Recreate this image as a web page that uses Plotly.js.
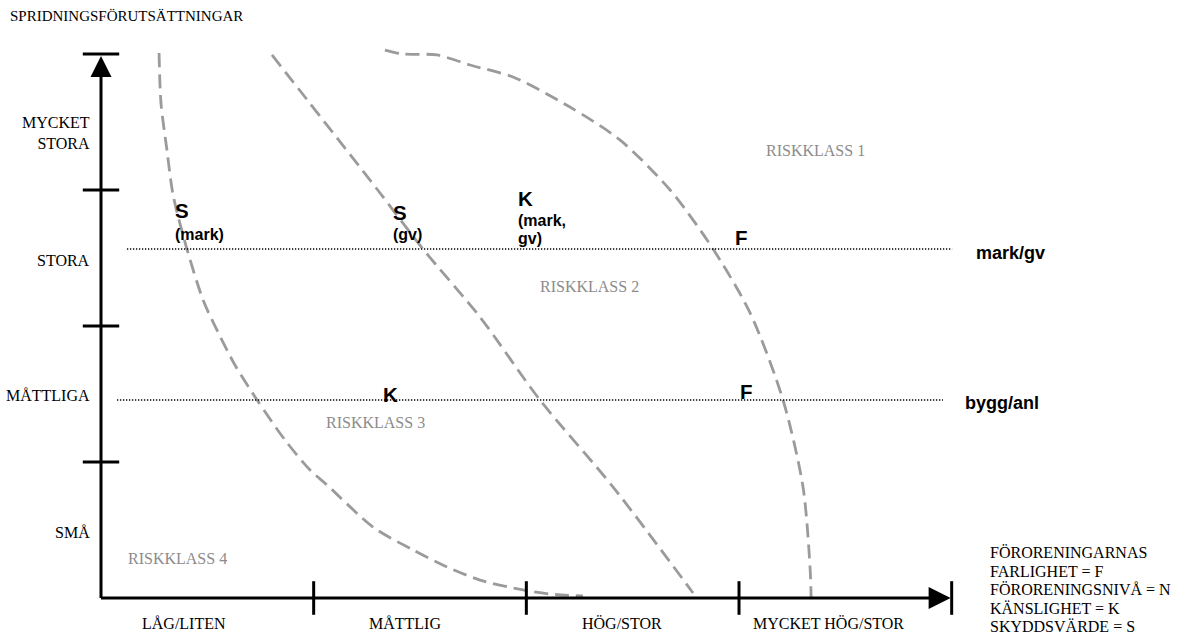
<!DOCTYPE html>
<html><head><meta charset="utf-8">
<script src="https://cdn.plot.ly/plotly-3.0.1.min.js"></script>
<style>html,body{margin:0;padding:0;background:#fff}#chart{width:1180px;height:639px}</style>
</head><body><div id="chart"></div>
<script>
// ---- data ----
const chartTitle = 'SPRIDNINGSFÖRUTSÄTTNINGAR';
const xCategories = ['LÅG/LITEN', 'MÅTTLIG', 'HÖG/STOR', 'MYCKET HÖG/STOR'];
const yCategories = ['SMÅ', 'MÅTTLIGA', 'STORA', 'MYCKET<br>STORA'];
const xTicks = [1, 2, 3];
const yTicks = [1, 2, 3];
const axisMax = 4;

// boundary curves (x = föroreningarnas farlighet / nivå, y = spridningsförutsättningar)
const curveSmarkX = [0.273, 0.282, 0.310, 0.339, 0.404, 0.480, 0.527, 0.630, 0.734, 0.865, 0.983, 1.063, 1.279, 1.467, 1.627, 1.782, 1.984, 2.111, 2.266];
const curveSmarkY = [4.007, 3.640, 3.294, 2.963, 2.566, 2.191, 2.029, 1.713, 1.456, 1.162, 0.941, 0.831, 0.522, 0.353, 0.228, 0.132, 0.059, 0.029, 0.015];
const curveSgvX = [0.804, 1.312, 1.514, 1.782, 2.064, 2.408, 2.784];
const curveSgvY = [3.993, 2.978, 2.566, 2.066, 1.456, 0.816, 0.037];
const curveFX = [1.335, 1.420, 1.580, 1.735, 1.937, 2.205, 2.440, 2.676, 2.878, 3.052, 3.207, 3.301, 3.334, 3.339];
const curveFY = [4.029, 4.000, 3.993, 3.919, 3.831, 3.610, 3.368, 3.000, 2.566, 2.096, 1.456, 0.816, 0.228, 0.007];

// horizontal reference levels
const levelNames = ['mark/gv', 'bygg/anl'];
const levelY = [2.566, 1.456];
const levelStart = [0.122, 0.075];
const levelEnd = [4.002, 3.959];

// risk classes
const riskNames = ['RISKKLASS 1', 'RISKKLASS 2', 'RISKKLASS 3', 'RISKKLASS 4'];
const riskX = [3.36, 2.295, 1.293, 0.36];
const riskY = [3.287, 2.294, 1.294, 0.294];

// letter markers on the levels
const markLetters = ['S', 'S', 'K', 'F', 'K', 'F'];
const markX = [0.339, 1.364, 1.951, 2.972, 1.317, 2.995];
const markY = [2.846, 2.838, 2.941, 2.654, 1.493, 1.515];
const subTexts = ['(mark)', '(gv)', '(mark,', 'gv)'];
const subX = [0.339, 1.364, 1.951, 1.951];
const subY = [2.676, 2.676, 2.779, 2.647];

const legendLines = ['FÖRORENINGARNAS', 'FARLIGHET = F', 'FÖRORENINGSNIVÅ = N', 'KÄNSLIGHET = K', 'SKYDDSVÄRDE = S'];
const legendY = [0.331, 0.195, 0.059, -0.077, -0.213];

// ---- layout constants ----
const xCatPos = [0.39, 1.43, 2.45, 3.42];
const yCatPos = [0.48, 1.49, 2.485, 3.42];
const serif = 'Liberation Serif, Times New Roman, serif';
const sans = 'Liberation Sans, Arial, sans-serif';
const curveStyle = {color: '#9b9b9b', width: 2.8, dash: '14px,7px', shape: 'spline', smoothing: 0.8};

const traces = [];
[[curveSmarkX, curveSmarkY], [curveSgvX, curveSgvY], [curveFX, curveFY]].forEach(function (c) {
  traces.push({type: 'scatter', mode: 'lines', x: c[0], y: c[1], line: curveStyle, hoverinfo: 'skip'});
});
levelY.forEach(function (lv, i) {
  traces.push({type: 'scatter', mode: 'lines', x: [levelStart[i], levelEnd[i]], y: [lv, lv],
    line: {color: '#000', width: 1.4, dash: '1.3px,1.7px'}, hoverinfo: 'skip'});
});
// axes
traces.push({type: 'scatter', mode: 'lines', x: [0, 0], y: [0, axisMax - 0.1], line: {color: '#000', width: 3}, hoverinfo: 'skip'});
traces.push({type: 'scatter', mode: 'lines', x: [0, axisMax - 0.08], y: [0, 0], line: {color: '#000', width: 3}, hoverinfo: 'skip'});
// tick marks
traces.push({type: 'scatter', mode: 'markers', x: yTicks.map(() => 0).concat([0]), y: yTicks.concat([axisMax]),
  marker: {symbol: 'line-ew', size: 26, color: '#000', line: {color: '#000', width: 3}}, hoverinfo: 'skip'});
traces.push({type: 'scatter', mode: 'markers', x: xTicks.concat([axisMax]), y: xTicks.map(() => 0).concat([0]),
  marker: {symbol: 'line-ns', size: 24, color: '#000', line: {color: '#000', width: 3}}, hoverinfo: 'skip'});
// arrow heads
traces.push({type: 'scatter', mode: 'markers', x: [0], y: [axisMax - 0.015],
  marker: {symbol: 'arrow-up', size: 21, color: '#000', line: {width: 0}}, hoverinfo: 'skip'});
traces.push({type: 'scatter', mode: 'markers', x: [axisMax - 0.005], y: [0],
  marker: {symbol: 'arrow-right', size: 22, color: '#000', line: {width: 0}}, hoverinfo: 'skip'});

const annotations = [];
function ann(text, x, y, font, xanchor, align) {
  annotations.push({text: text, x: x, y: y, xref: 'x', yref: 'y', showarrow: false,
    xanchor: xanchor || 'left', yanchor: 'middle', align: align || 'left', font: font});
}
ann(chartTitle, -0.437, 4.282, {family: serif, size: 15, color: '#000'});
xCategories.forEach(function (t, i) { ann(t, xCatPos[i], -0.184, {family: serif, size: 16, color: '#000'}, 'center', 'center'); });
yCategories.forEach(function (t, i) { ann(t, -0.042, yCatPos[i], {family: serif, size: 16, color: '#000'}, 'right', 'right'); });
riskNames.forEach(function (t, i) { ann(t, riskX[i], riskY[i], {family: serif, size: 16, color: '#8c8c8c'}, 'center', 'center'); });
markLetters.forEach(function (t, i) { ann('<b>' + t + '</b>', markX[i], markY[i], {family: sans, size: 20.5, color: '#000'}); });
subTexts.forEach(function (t, i) { ann('<b>' + t + '</b>', subX[i], subY[i], {family: sans, size: 16, color: '#000'}); });
ann('<b>' + levelNames[0] + '</b>', 4.105, 2.537, {family: sans, size: 18, color: '#000'});
ann('<b>' + levelNames[1] + '</b>', 4.053, 1.434, {family: sans, size: 18, color: '#000'});
legendLines.forEach(function (t, i) { ann(t, 4.171, legendY[i], {family: serif, size: 16, color: '#000'}); });

const layout = {
  width: 1180, height: 639,
  margin: {l: 0, r: 0, t: 0, b: 0, pad: 0},
  paper_bgcolor: '#fff', plot_bgcolor: '#fff',
  showlegend: false, hovermode: false,
  xaxis: {range: [-101 / 212.67, 1079 / 212.67], visible: false, fixedrange: true},
  yaxis: {range: [-41 / 136, 598 / 136], visible: false, fixedrange: true},
  annotations: annotations
};
Plotly.newPlot('chart', traces, layout, {staticPlot: true, displayModeBar: false});
</script></body></html>
